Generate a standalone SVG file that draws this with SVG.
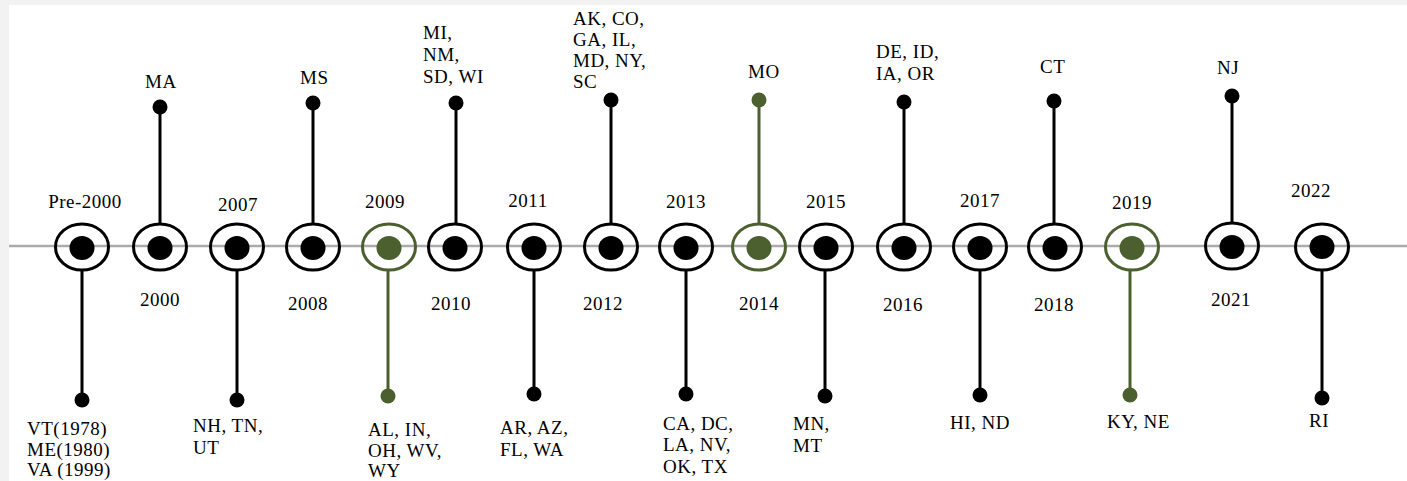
<svg xmlns="http://www.w3.org/2000/svg" width="1407" height="481" viewBox="0 0 1407 481">
<style>
text{font-family:"Liberation Serif","Times New Roman",serif;font-size:19px;letter-spacing:0.5px;fill:#000}
.yr{text-anchor:middle}
.ring{fill:none;stroke:#000;stroke-width:3}
.core{fill:#000}
.stem{stroke:#000;stroke-width:3}
.g .ring{stroke:#4b5f2f}
.g .core{fill:#4b5f2f}
.g .stem{stroke:#4b5f2f}
.g .dot{fill:#4b5f2f}
.dot{fill:#000}
</style>
<rect x="0" y="0" width="1407" height="481" fill="#f2f2f2"/>
<rect x="9" y="5" width="1398" height="476" fill="#fff"/>
<g id="connectors">
<line x1="9" y1="246" x2="1407" y2="246" stroke="#ababab" stroke-width="2.5"/>
</g>
<g id="n-pre2000"><line class="stem" x1="82" y1="270" x2="82" y2="400"/><circle class="dot" cx="82" cy="400" r="7.5"/><ellipse class="ring" cx="82" cy="247" rx="26.5" ry="23"/><ellipse class="core" cx="82" cy="248" rx="12.5" ry="12"/><text class="yr" x="85" y="208">Pre-2000</text><text x="27" y="435">VT(1978)</text><text x="27" y="456">ME(1980)</text><text x="27" y="476">VA (1999)</text></g>
<g id="n-2000"><line class="stem" x1="160" y1="107" x2="160" y2="224"/><circle class="dot" cx="160" cy="107" r="7.5"/><ellipse class="ring" cx="160" cy="247" rx="26.5" ry="23"/><ellipse class="core" cx="160" cy="248" rx="12.5" ry="12"/><text class="yr" x="160" y="306">2000</text><text x="145" y="88">MA</text></g>
<g id="n-2007"><line class="stem" x1="237" y1="270" x2="237" y2="400"/><circle class="dot" cx="237" cy="400" r="7.5"/><ellipse class="ring" cx="237" cy="247" rx="26.5" ry="23"/><ellipse class="core" cx="237" cy="248" rx="12.5" ry="12"/><text class="yr" x="238" y="211">2007</text><text x="193" y="432">NH, TN,</text><text x="193" y="454">UT</text></g>
<g id="n-2008"><line class="stem" x1="313" y1="103" x2="313" y2="224"/><circle class="dot" cx="313" cy="103" r="7.5"/><ellipse class="ring" cx="313" cy="247" rx="26.5" ry="23"/><ellipse class="core" cx="313" cy="248" rx="12.5" ry="12"/><text class="yr" x="308" y="310">2008</text><text x="300" y="84">MS</text></g>
<g id="n-2009" class="g"><line class="stem" x1="388" y1="270" x2="388" y2="396"/><circle class="dot" cx="388" cy="396" r="7.5"/><ellipse class="ring" cx="389" cy="247" rx="26.5" ry="23"/><ellipse class="core" cx="389" cy="248" rx="12.5" ry="12"/><text class="yr" x="385" y="208">2009</text><text x="368" y="436">AL, IN,</text><text x="368" y="457">OH, WV,</text><text x="368" y="477">WY</text></g>
<g id="n-2010"><line class="stem" x1="456" y1="103" x2="456" y2="224"/><circle class="dot" cx="456" cy="103" r="7.5"/><ellipse class="ring" cx="455" cy="247" rx="26.5" ry="23"/><ellipse class="core" cx="455" cy="248" rx="12.5" ry="12"/><text class="yr" x="451" y="310">2010</text><text x="423" y="39">MI,</text><text x="423" y="61">NM,</text><text x="423" y="83">SD, WI</text></g>
<g id="n-2011"><line class="stem" x1="534" y1="270" x2="534" y2="394"/><circle class="dot" cx="534" cy="394" r="7.5"/><ellipse class="ring" cx="534" cy="247" rx="26.5" ry="23"/><ellipse class="core" cx="534" cy="248" rx="12.5" ry="12"/><text class="yr" x="528" y="207">2011</text><text x="500" y="434">AR, AZ,</text><text x="500" y="456">FL, WA</text></g>
<g id="n-2012"><line class="stem" x1="611" y1="100" x2="611" y2="224"/><circle class="dot" cx="611" cy="100" r="7.5"/><ellipse class="ring" cx="611" cy="247" rx="26.5" ry="23"/><ellipse class="core" cx="611" cy="248" rx="12.5" ry="12"/><text class="yr" x="603" y="310">2012</text><text x="573" y="25">AK, CO,</text><text x="573" y="46">GA, IL,</text><text x="573" y="67">MD, NY,</text><text x="573" y="88">SC</text></g>
<g id="n-2013"><line class="stem" x1="686" y1="270" x2="686" y2="394"/><circle class="dot" cx="686" cy="394" r="7.5"/><ellipse class="ring" cx="686" cy="247" rx="26.5" ry="23"/><ellipse class="core" cx="686" cy="248" rx="12.5" ry="12"/><text class="yr" x="686" y="208">2013</text><text x="663" y="430">CA, DC,</text><text x="663" y="451">LA, NV,</text><text x="663" y="473">OK, TX</text></g>
<g id="n-2014" class="g"><line class="stem" x1="759" y1="100" x2="759" y2="224"/><circle class="dot" cx="759" cy="100" r="7.5"/><ellipse class="ring" cx="759" cy="247" rx="26.5" ry="23"/><ellipse class="core" cx="759" cy="248" rx="12.5" ry="12"/><text class="yr" x="759" y="310">2014</text><text x="748" y="78">MO</text></g>
<g id="n-2015"><line class="stem" x1="825" y1="270" x2="825" y2="396"/><circle class="dot" cx="825" cy="396" r="7.5"/><ellipse class="ring" cx="826" cy="247" rx="26.5" ry="23"/><ellipse class="core" cx="826" cy="248" rx="12.5" ry="12"/><text class="yr" x="826" y="208">2015</text><text x="793" y="430">MN,</text><text x="793" y="452">MT</text></g>
<g id="n-2016"><line class="stem" x1="904" y1="102" x2="904" y2="224"/><circle class="dot" cx="904" cy="102" r="7.5"/><ellipse class="ring" cx="904" cy="247" rx="26.5" ry="23"/><ellipse class="core" cx="904" cy="248" rx="12.5" ry="12"/><text class="yr" x="903" y="311">2016</text><text x="876" y="58">DE, ID,</text><text x="876" y="80">IA, OR</text></g>
<g id="n-2017"><line class="stem" x1="980" y1="270" x2="980" y2="395"/><circle class="dot" cx="980" cy="395" r="7.5"/><ellipse class="ring" cx="980" cy="247" rx="26.5" ry="23"/><ellipse class="core" cx="980" cy="248" rx="12.5" ry="12"/><text class="yr" x="980" y="207">2017</text><text x="950" y="429">HI, ND</text></g>
<g id="n-2018"><line class="stem" x1="1054" y1="101" x2="1054" y2="224"/><circle class="dot" cx="1054" cy="101" r="7.5"/><ellipse class="ring" cx="1055" cy="247" rx="26.5" ry="23"/><ellipse class="core" cx="1055" cy="248" rx="12.5" ry="12"/><text class="yr" x="1054" y="311">2018</text><text x="1040" y="73">CT</text></g>
<g id="n-2019" class="g"><line class="stem" x1="1130" y1="270" x2="1130" y2="395"/><circle class="dot" cx="1130" cy="395" r="7.5"/><ellipse class="ring" cx="1132" cy="247" rx="26.5" ry="23"/><ellipse class="core" cx="1132" cy="248" rx="12.5" ry="12"/><text class="yr" x="1132" y="209">2019</text><text x="1107" y="428">KY, NE</text></g>
<g id="n-2021"><line class="stem" x1="1232" y1="96" x2="1232" y2="223"/><circle class="dot" cx="1232" cy="96" r="7.5"/><ellipse class="ring" cx="1232" cy="246" rx="26.5" ry="23"/><ellipse class="core" cx="1232" cy="247" rx="12.5" ry="12"/><text class="yr" x="1231" y="306">2021</text><text x="1217" y="74">NJ</text></g>
<g id="n-2022"><line class="stem" x1="1322" y1="270" x2="1322" y2="398"/><circle class="dot" cx="1322" cy="398" r="7.5"/><ellipse class="ring" cx="1322" cy="247" rx="26.5" ry="23"/><ellipse class="core" cx="1322" cy="247" rx="12.5" ry="12"/><text class="yr" x="1311" y="197">2022</text><text x="1309" y="427">RI</text></g>
</svg>
